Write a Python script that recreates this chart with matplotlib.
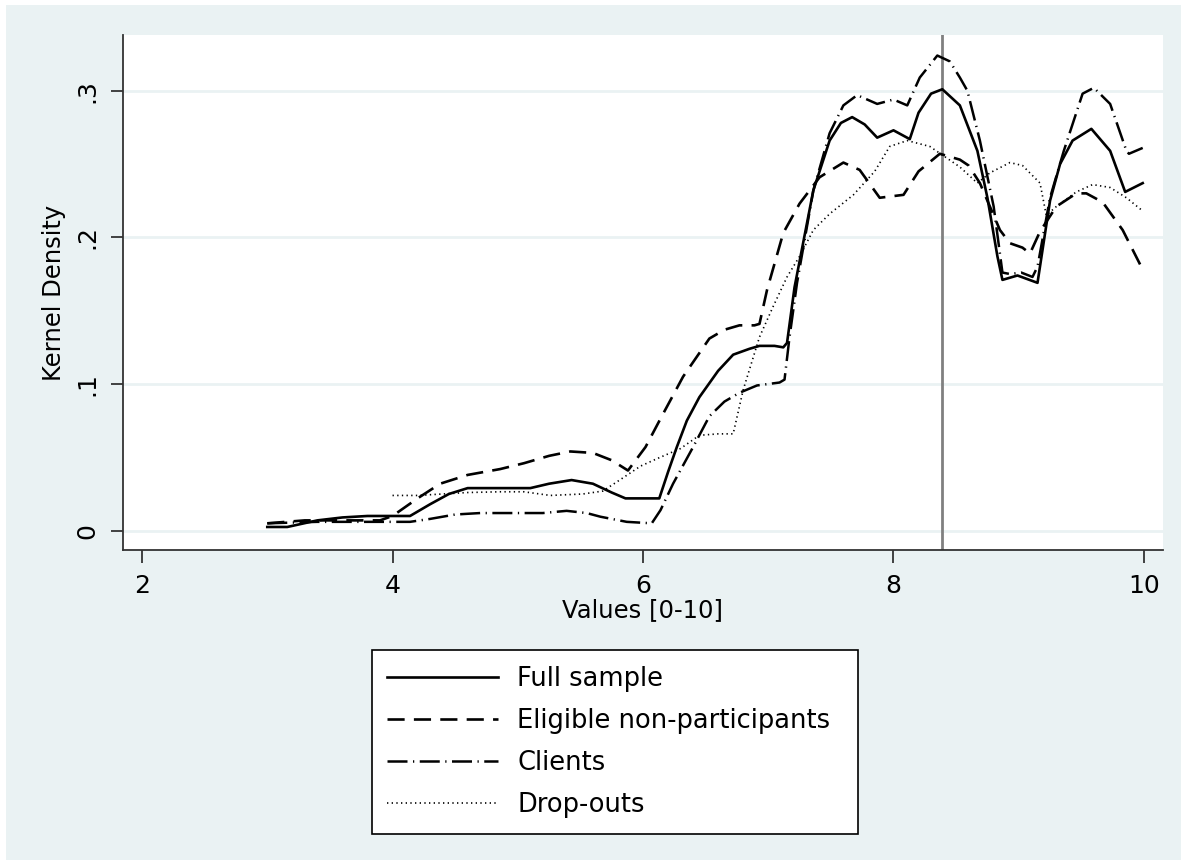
import matplotlib
matplotlib.use('Agg')
import matplotlib.pyplot as plt
from matplotlib.lines import Line2D
from matplotlib.patches import Rectangle

plt.rcParams['font.family'] = ['DejaVu Sans']

#################### Data ####################
full_x = [3.0, 3.16, 3.4, 3.6, 3.8, 4.14, 4.3, 4.45, 4.6, 4.8, 5.1, 5.25, 5.43, 5.6, 5.75,
          5.86, 6.0, 6.13, 6.2, 6.27, 6.35, 6.45, 6.6, 6.72, 6.85, 6.93, 7.05, 7.12, 7.15,
          7.21, 7.36, 7.49, 7.58, 7.67, 7.77, 7.87, 8.0, 8.13, 8.2, 8.3, 8.39, 8.53, 8.67,
          8.75, 8.83, 8.87, 8.99, 9.15, 9.25, 9.33, 9.43, 9.58, 9.73, 9.85, 9.99]
full_y = [0.0025, 0.0025, 0.007, 0.009, 0.010, 0.010, 0.018, 0.025, 0.029, 0.029, 0.029, 0.032,
          0.0345, 0.032, 0.026, 0.022, 0.022, 0.022, 0.040, 0.057, 0.075, 0.091, 0.109, 0.120,
          0.124, 0.126, 0.126, 0.125, 0.128, 0.166, 0.232, 0.266, 0.278, 0.282, 0.277, 0.268,
          0.273, 0.267, 0.285, 0.298, 0.301, 0.290, 0.259, 0.227, 0.187, 0.171, 0.174, 0.169,
          0.225, 0.250, 0.266, 0.274, 0.259, 0.231, 0.237]

elig_x = [3.0, 3.3, 3.6, 3.9, 4.0, 4.1, 4.2, 4.38, 4.6, 4.86, 5.05, 5.25, 5.42, 5.6, 5.75,
          5.88, 6.02, 6.15, 6.32, 6.53, 6.65, 6.77, 6.89, 6.93, 6.99, 7.12, 7.25, 7.41, 7.6,
          7.73, 7.89, 8.08, 8.2, 8.37, 8.53, 8.6, 8.69, 8.85, 8.93, 9.03, 9.09, 9.17, 9.3,
          9.46, 9.54, 9.67, 9.83, 9.99]
elig_y = [0.005, 0.007, 0.007, 0.007, 0.010, 0.016, 0.022, 0.032, 0.038, 0.042, 0.046, 0.051,
          0.054, 0.053, 0.048, 0.041, 0.057, 0.078, 0.105, 0.131, 0.137, 0.140, 0.140, 0.141,
          0.164, 0.203, 0.223, 0.241, 0.251, 0.246, 0.227, 0.229, 0.245, 0.257, 0.253, 0.249,
          0.237, 0.205, 0.196, 0.193, 0.189, 0.204, 0.221, 0.230, 0.230, 0.224, 0.205, 0.178]

cli_x = [3.0, 3.4, 3.8, 4.14, 4.3, 4.5, 4.7, 4.86, 5.05, 5.2, 5.39, 5.55, 5.66, 5.87, 6.07,
         6.14, 6.24, 6.4, 6.53, 6.65, 6.77, 6.91, 7.09, 7.13, 7.17, 7.23, 7.36, 7.49, 7.6,
         7.71, 7.87, 8.0, 8.11, 8.21, 8.35, 8.45, 8.53, 8.59, 8.69, 8.8, 8.87, 8.93, 9.02,
         9.11, 9.15, 9.25, 9.36, 9.51, 9.6, 9.73, 9.86, 9.88, 9.99]
cli_y = [0.005, 0.006, 0.006, 0.006, 0.008, 0.011, 0.012, 0.012, 0.012, 0.012, 0.0135, 0.012,
         0.0095, 0.006, 0.005, 0.014, 0.032, 0.057, 0.078, 0.088, 0.094, 0.099, 0.101, 0.103,
         0.132, 0.169, 0.232, 0.271, 0.290, 0.297, 0.291, 0.294, 0.290, 0.309, 0.324, 0.320,
         0.309, 0.300, 0.266, 0.221, 0.176, 0.175, 0.176, 0.173, 0.180, 0.227, 0.259, 0.298,
         0.302, 0.291, 0.259, 0.257, 0.261]

drop_x = [4.0, 4.2, 4.4, 4.6, 4.86, 5.05, 5.26, 5.52, 5.68, 5.84, 5.98, 6.11, 6.3, 6.45, 6.6,
          6.72, 6.8, 6.93, 7.04, 7.15, 7.25, 7.36, 7.49, 7.68, 7.85, 7.97, 8.11, 8.29, 8.53,
          8.67, 8.77, 8.93, 9.03, 9.17, 9.22, 9.3, 9.46, 9.59, 9.73, 9.86, 9.99]
drop_y = [0.024, 0.024, 0.025, 0.026, 0.0265, 0.0265, 0.024, 0.025, 0.027, 0.036, 0.044, 0.049,
          0.056, 0.065, 0.066, 0.066, 0.096, 0.132, 0.153, 0.173, 0.187, 0.205, 0.216, 0.229,
          0.245, 0.262, 0.266, 0.262, 0.248, 0.237, 0.244, 0.251, 0.249, 0.237, 0.215, 0.221,
          0.231, 0.236, 0.234, 0.227, 0.218]

LABELS = ['Full sample', 'Eligible non-participants', 'Clients', 'Drop-outs']
X_TICKS = [2, 4, 6, 8, 10]
Y_TICKS = [0, 0.1, 0.2, 0.3]
Y_TICKLABELS = ['0', '.1', '.2', '.3']
VLINE_X = 8.39
#######################################################################

BG = '#eaf2f3'
STYLES = ['-', (0, (6.5, 3.5)), (0, (8, 2.2, 0.5, 2.2)), (0, (0.8, 2.0))]
WIDTHS = [1.9, 1.9, 1.8, 1.2]

fig = plt.figure(figsize=(11.87, 8.65), dpi=100, facecolor='white')
fig.patches.append(Rectangle((6 / 1187, 5 / 865), 1 - 12 / 1187, 1 - 10 / 865,
                             transform=fig.transFigure, facecolor=BG, edgecolor='none', zorder=-10))

ax = fig.add_axes([123 / 1187, (865 - 550) / 865, (1163 - 123) / 1187, (550 - 35) / 865])
ax.set_facecolor('white')

for yv in Y_TICKS:
    ax.axhline(yv, color=BG, lw=2, zorder=1)
ax.axvline(VLINE_X, color='#808080', lw=2, zorder=2)

series = [(full_x, full_y), (elig_x, elig_y), (cli_x, cli_y), (drop_x, drop_y)]
for (xs, ys), lab, ls, lw in zip(series, LABELS, STYLES, WIDTHS):
    ax.plot(xs, ys, color='black', linestyle=ls, lw=lw, label=lab, zorder=3,
            solid_joinstyle='round', dash_joinstyle='round')

ax.set_xlim(1.848, 10.152)
ax.set_ylim(-0.0132, 0.338)
ax.set_xticks(X_TICKS)
ax.set_yticks(Y_TICKS)
ax.set_yticklabels(Y_TICKLABELS, rotation=90, va='center')
ax.tick_params(axis='both', length=9, width=1.3, labelsize=18, pad=8, color='#333333')
for s in ['top', 'right']:
    ax.spines[s].set_visible(False)
for s in ['left', 'bottom']:
    ax.spines[s].set_linewidth(1.3)
    ax.spines[s].set_color('#333333')

ax.set_xlabel('Values [0-10]', fontsize=17.5, labelpad=0)
ax.set_ylabel('Kernel Density', fontsize=17.5, labelpad=7)

handles = [Line2D([], [], color='black', linestyle=ls, lw=lw) for ls, lw in zip(STYLES, WIDTHS)]
leg = fig.legend(handles, LABELS, loc='center',
                 bbox_to_anchor=(372 / 1187, 32 / 865, 486 / 1187, 182 / 865),
                 mode='expand', fontsize=18.5, frameon=True, fancybox=False,
                 handlelength=4.3, handletextpad=0.75, labelspacing=0.63,
                 borderpad=0.6, borderaxespad=0, framealpha=1)
leg.get_frame().set_facecolor('white')
leg.get_frame().set_edgecolor('black')
leg.get_frame().set_linewidth(1.2)

fig.savefig('out.png', dpi=100, facecolor=fig.get_facecolor())
